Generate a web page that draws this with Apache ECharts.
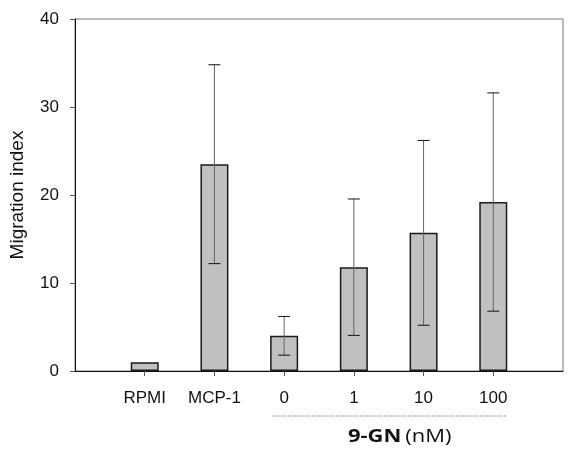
<!DOCTYPE html>
<html>
<head>
<meta charset="utf-8">
<title></title>
<script src="https://cdn.jsdelivr.net/npm/echarts@6/dist/echarts.min.js"></script>
</head>
<body style="margin:0">
<div id="main" style="width: 571px; height: 455px;"></div>
<script type="text/javascript">
// categories (blank slots at both ends keep the bars off the frame)
var categories = ['', 'RPMI', 'MCP-1', '0', '1', '10', '100', ''];
var means = [null, 1.0, 23.5, 4.0, 11.8, 15.7, 19.2, null];
var sds = [null, 0, 11.3, 2.2, 7.75, 10.5, 12.4, null];
var yTicks = [0, 10, 20, 30, 40];

var errData = [];
for (var i = 0; i < categories.length; i++) {
  if (means[i] != null && sds[i] > 0) {
    errData.push([i, means[i] - sds[i], means[i] + sds[i]]);
  }
}

var myChart = echarts.init(document.getElementById('main'));
var font = 'Liberation Sans';

option = {
  animation: false,
  grid: {
    left: 72, right: 8, top: 19, bottom: 84,
    show: true, borderColor: '#777', borderWidth: 1
  },
  xAxis: {
    type: 'category',
    data: categories,
    boundaryGap: false,
    axisLine: { lineStyle: { color: '#111', width: 1 } },
    axisTick: {
      length: 5,
      interval: function (idx) { return idx > 0 && idx < categories.length - 1; },
      lineStyle: { color: '#555' }
    },
    axisLabel: {
      interval: 0, margin: 19,
      color: '#111', fontFamily: font, fontSize: 17
    },
    splitLine: { show: false }
  },
  yAxis: {
    type: 'value',
    min: yTicks[0], max: yTicks[yTicks.length - 1], interval: 10,
    name: 'Migration index',
    nameLocation: 'middle',
    nameGap: 48,
    nameTextStyle: { color: '#111', fontFamily: font, fontSize: 19 },
    axisLine: { show: true, lineStyle: { color: '#111', width: 1 } },
    axisTick: { show: true, length: 5, lineStyle: { color: '#555' } },
    axisLabel: { margin: 16, color: '#111', fontFamily: font, fontSize: 17 },
    splitLine: { show: false }
  },
  series: [
    {
      type: 'bar',
      data: means,
      barWidth: 28,
      itemStyle: { color: '#c0c0c0', borderColor: '#1a1a1a', borderWidth: 1.5 },
      z: 2
    },
    {
      type: 'custom',
      data: errData,
      z: 3,
      renderItem: function (params, api) {
        var x = api.value(0);
        var lo = api.coord([x, api.value(1)]);
        var hi = api.coord([x, api.value(2)]);
        var hw = 6;
        return {
          type: 'group',
          children: [
            { type: 'line', shape: { x1: lo[0], y1: lo[1], x2: hi[0], y2: hi[1] },
              style: { stroke: '#666', lineWidth: 1 } },
            { type: 'line', shape: { x1: hi[0] - hw, y1: hi[1], x2: hi[0] + hw, y2: hi[1] },
              style: { stroke: '#111', lineWidth: 1 } },
            { type: 'line', shape: { x1: lo[0] - hw, y1: lo[1], x2: lo[0] + hw, y2: lo[1] },
              style: { stroke: '#111', lineWidth: 1 } }
          ]
        };
      }
    }
  ]
};
myChart.setOption(option);

// dotted bracket under the 9-GN doses
var p0 = myChart.convertToPixel({ xAxisIndex: 0, yAxisIndex: 0 }, [3, 0]);
var p1 = myChart.convertToPixel({ xAxisIndex: 0, yAxisIndex: 0 }, [6, 0]);
var lineY = p0[1] + 45;
myChart.setOption({
  graphic: [
    {
      type: 'line',
      shape: { x1: p0[0] - 11, y1: lineY, x2: p1[0] + 14, y2: lineY },
      style: { stroke: '#777', lineWidth: 1, lineDash: [1.5, 1.5] }
    },
    {
      type: 'text',
      x: (p0[0] + p1[0]) / 2 + 11,
      y: lineY + 21,
      scaleX: 1.22,
      style: {
        text: '{b|9-GN} {n|(nM)}',
        align: 'center',
        verticalAlign: 'middle',
        rich: {
          b: { fontFamily: 'Open Sans', fontWeight: 'bold', fontSize: 18, fill: '#111' },
          n: { fontFamily: 'Open Sans', fontSize: 18, fill: '#111' }
        }
      }
    }
  ]
});
</script>
</body>
</html>
